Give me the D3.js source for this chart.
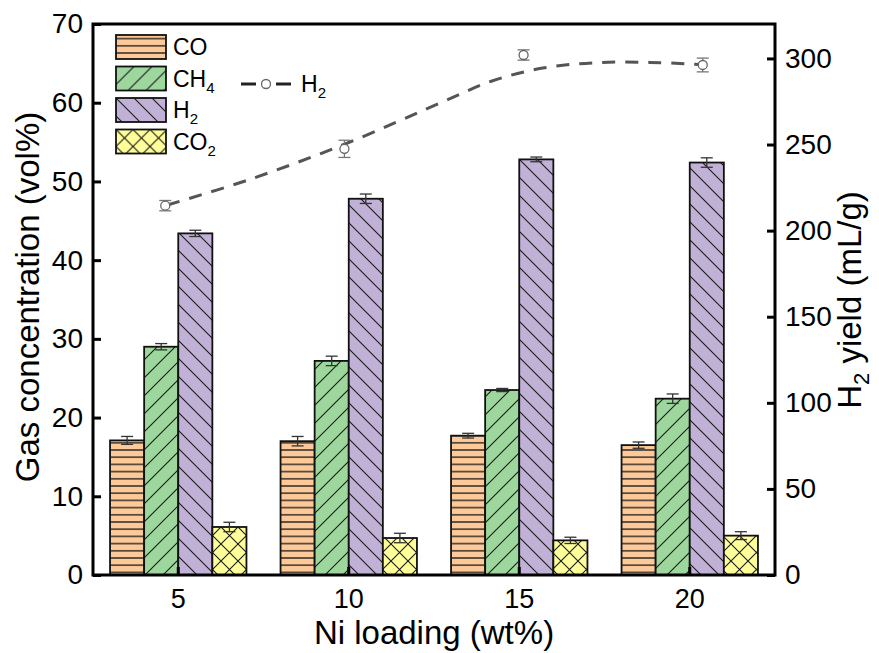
<!DOCTYPE html>
<html lang="en">
    <head>
        <meta charset="UTF-8" />
        <title>Ni loading gas concentration</title>
        <script src="https://d3js.org/d3.v7.min.js"></script>
        <style>
            body { margin: 0; background: #fff; }
            text { font-family: "Liberation Sans", Arial, sans-serif; fill: #000; }
            .bar { stroke: #111; stroke-width: 1.8px; }
        </style>
    </head>
    <body>
        <svg width="879" height="653"></svg>

        <script>
            const width = 879,
                height = 653;
            const margin = { top: 24, right: 104, bottom: 78, left: 93 };

            // data
            const loadings = ["5", "10", "15", "20"];
            const gases = ["CO", "CH4", "H2", "CO2"];
            const coVals = [17.1, 17.0, 17.7, 16.5];
            const ch4Vals = [29.0, 27.2, 23.5, 22.4];
            const h2Vals = [43.4, 47.8, 52.8, 52.4];
            const co2Vals = [6.1, 4.7, 4.4, 5.0];
            const coErr = [0.5, 0.6, 0.3, 0.4];
            const ch4Err = [0.4, 0.6, 0.2, 0.6];
            const h2Err = [0.4, 0.6, 0.3, 0.6];
            const co2Err = [0.6, 0.6, 0.4, 0.5];

            // H2 yield (right axis)
            const yieldX = [5, 10, 15, 20];
            const yieldVals = [214.5, 247.5, 302, 296.2];
            const yieldErr = [3, 5, 3, 4];
            // dashed fit curve
            const fitX = [5.06, 7.31, 10.02, 12.8, 14.12, 15.54, 16.99, 18.52, 19.92];
            const fitY = [214.9, 229.4, 250.3, 275.3, 286.9, 294.4, 297.5, 297.7, 296.5];

            const yTicks = [0, 10, 20, 30, 40, 50, 60, 70];
            const yRTicks = [0, 50, 100, 150, 200, 250, 300];

            const values = [coVals, ch4Vals, h2Vals, co2Vals];
            const errs = [coErr, ch4Err, h2Err, co2Err];
            const fills = ["#fdc998", "#9ed79e", "#c1b1d7", "#ffff99"];

            const svg = d3.select("svg");
            const x0 = d3.scaleBand().domain(loadings)
                .range([margin.left, width - margin.right])
                .paddingInner(0.2).paddingOuter(0.1);
            const x1 = d3.scaleBand().domain(gases).range([0, x0.bandwidth()]);
            const y = d3.scaleLinear().domain([0, 70]).range([height - margin.bottom, margin.top]);
            const yR = d3.scaleLinear().domain([0, 320]).range([height - margin.bottom, margin.top]);
            // the H2 yield points sit slightly wider than the bar groups
            const shift = 13;
            const xL = d3.scaleLinear().domain([5, 20])
                .range([x0("5") + x0.bandwidth() / 2 - shift, x0("20") + x0.bandwidth() / 2 + shift]);

            // hatch patterns
            const defs = svg.append("defs");
            function pattern(id, size, fill, d, sw) {
                const p = defs.append("pattern").attr("id", id)
                    .attr("patternUnits", "userSpaceOnUse")
                    .attr("width", size).attr("height", size);
                p.append("rect").attr("width", size).attr("height", size).attr("fill", fill);
                p.append("path").attr("d", d).attr("stroke", "#1a1a1a")
                    .attr("stroke-width", sw).attr("fill", "none");
            }
            pattern("p0", 7.2, fills[0], "M0,3.6 H7.2", 1.3);
            const s = 18;
            pattern("p1", s, fills[1], `M-2,2 L2,-2 M0,${s} L${s},0 M${s - 2},${s + 2} L${s + 2},${s - 2}`, 1.1);
            pattern("p2", s, fills[2], `M-2,${s - 2} L2,${s + 2} M0,0 L${s},${s} M${s - 2},-2 L${s + 2},2`, 1.1);
            const c = 17;
            pattern("p3", c, fills[3],
                `M0,0 L${c},${c} M0,${c} L${c},0 M-2,2 L2,-2 M${c - 2},${c + 2} L${c + 2},${c - 2} M-2,${c - 2} L2,${c + 2} M${c - 2},-2 L${c + 2},2`, 1.1);

            // bars
            const barData = [];
            loadings.forEach((l, i) => {
                gases.forEach((g, j) => {
                    barData.push({ l, g, j, v: values[j][i], e: errs[j][i] });
                });
            });
            const gBars = svg.append("g");
            gBars.selectAll("rect").data(barData).enter().append("rect")
                .attr("class", "bar")
                .attr("x", (d) => x0(d.l) + x1(d.g))
                .attr("width", x1.bandwidth())
                .attr("y", (d) => y(d.v))
                .attr("height", (d) => y(0) - y(d.v))
                .attr("fill", (d) => `url(#p${d.j})`);

            // error bars on bars
            const eb = gBars.selectAll("g.err").data(barData).enter().append("g")
                .attr("stroke", "#333").attr("stroke-width", 1.3);
            eb.each(function (d) {
                const cx = x0(d.l) + x1(d.g) + x1.bandwidth() / 2;
                const g = d3.select(this);
                g.append("line").attr("x1", cx).attr("x2", cx).attr("y1", y(d.v + d.e)).attr("y2", y(d.v - d.e));
                g.append("line").attr("x1", cx - 6).attr("x2", cx + 6).attr("y1", y(d.v + d.e)).attr("y2", y(d.v + d.e));
                g.append("line").attr("x1", cx - 6).attr("x2", cx + 6).attr("y1", y(d.v - d.e)).attr("y2", y(d.v - d.e));
            });

            // dashed fit line
            const fit = fitX.map((v, i) => [v, fitY[i]]);
            svg.append("path").datum(fit)
                .attr("fill", "none").attr("stroke", "#555").attr("stroke-width", 3)
                .attr("stroke-dasharray", "13,10")
                .attr("d", d3.line().x((d) => xL(d[0])).y((d) => yR(d[1])).curve(d3.curveCatmullRom.alpha(0.5)));

            // H2 yield points
            const pts = yieldX.map((v, i) => ({ x: v, y: yieldVals[i], e: yieldErr[i] }));
            const gp = svg.append("g").selectAll("g").data(pts).enter().append("g")
                .attr("stroke", "#777").attr("stroke-width", 1.3);
            gp.append("line").attr("x1", (d) => xL(d.x)).attr("x2", (d) => xL(d.x))
                .attr("y1", (d) => yR(d.y + d.e)).attr("y2", (d) => yR(d.y - d.e));
            gp.append("line").attr("x1", (d) => xL(d.x) - 6).attr("x2", (d) => xL(d.x) + 6)
                .attr("y1", (d) => yR(d.y + d.e)).attr("y2", (d) => yR(d.y + d.e));
            gp.append("line").attr("x1", (d) => xL(d.x) - 6).attr("x2", (d) => xL(d.x) + 6)
                .attr("y1", (d) => yR(d.y - d.e)).attr("y2", (d) => yR(d.y - d.e));
            gp.append("circle").attr("cx", (d) => xL(d.x)).attr("cy", (d) => yR(d.y))
                .attr("r", 4.5).attr("fill", "#fff").attr("stroke", "#666");

            // axes
            const axL = svg.append("g").attr("transform", `translate(${margin.left},0)`)
                .call(d3.axisLeft(y).tickValues(yTicks).tickSize(-8).tickPadding(10));
            const axR = svg.append("g").attr("transform", `translate(${width - margin.right},0)`)
                .call(d3.axisRight(yR).tickValues(yRTicks).tickSize(-8).tickPadding(10));
            const axB = svg.append("g").attr("transform", `translate(0,${height - margin.bottom})`)
                .call(d3.axisBottom(x0).tickSize(-8).tickPadding(14));
            [axL, axR, axB].forEach((a) => {
                a.select(".domain").remove();
                a.selectAll("line").attr("stroke", "#000").attr("stroke-width", 3);
                a.selectAll("text").attr("font-size", "28px")
                    .attr("font-family", "Liberation Sans, Arial, sans-serif").attr("fill", "#000");
            });
            axB.selectAll("text").attr("font-size", "27px");

            // frame
            svg.append("rect")
                .attr("x", margin.left).attr("y", margin.top)
                .attr("width", width - margin.left - margin.right)
                .attr("height", height - margin.top - margin.bottom)
                .attr("fill", "none").attr("stroke", "#000").attr("stroke-width", 3);

            // axis titles
            svg.append("text").attr("transform", `translate(39,297) rotate(-90)`)
                .attr("text-anchor", "middle").attr("font-size", "33px")
                .text("Gas concentration (vol%)");
            svg.append("text").attr("x", (margin.left + width - margin.right) / 2).attr("y", 644)
                .attr("text-anchor", "middle").attr("font-size", "33px")
                .text("Ni loading (wt%)");
            const rt = svg.append("text").attr("transform", `translate(861,300) rotate(-90)`)
                .attr("text-anchor", "middle").attr("font-size", "33px");
            rt.append("tspan").text("H");
            rt.append("tspan").attr("font-size", "22px").attr("dy", 8).text("2");
            rt.append("tspan").attr("dy", -8).text(" yield (mL/g)");

            // legend
            const labels = [["CO", ""], ["CH", "4"], ["H", "2"], ["CO", "2"]];
            const lg = svg.append("g").selectAll("g").data(labels).enter().append("g")
                .attr("transform", (d, i) => `translate(116,${35 + i * 31.5})`);
            lg.append("rect").attr("width", 50).attr("height", 24)
                .attr("fill", (d, i) => `url(#p${i})`).attr("stroke", "#111").attr("stroke-width", 1.8);
            const lt = lg.append("text").attr("x", 57).attr("y", 20).attr("font-size", "23px");
            lt.append("tspan").text((d) => d[0]);
            lt.append("tspan").attr("font-size", "15px").attr("dy", 6).text((d) => d[1]);

            const ll = svg.append("g").attr("transform", "translate(241,84)");
            ll.append("line").attr("x1", 0).attr("x2", 15).attr("stroke", "#222").attr("stroke-width", 3);
            ll.append("line").attr("x1", 35).attr("x2", 50).attr("stroke", "#222").attr("stroke-width", 3);
            ll.append("circle").attr("cx", 25).attr("r", 4.5).attr("fill", "#fff").attr("stroke", "#666").attr("stroke-width", 1.3);
            const lt2 = ll.append("text").attr("x", 60).attr("y", 8).attr("font-size", "23px");
            lt2.append("tspan").text("H");
            lt2.append("tspan").attr("font-size", "15px").attr("dy", 6).text("2");
        </script>
    </body>
</html>
